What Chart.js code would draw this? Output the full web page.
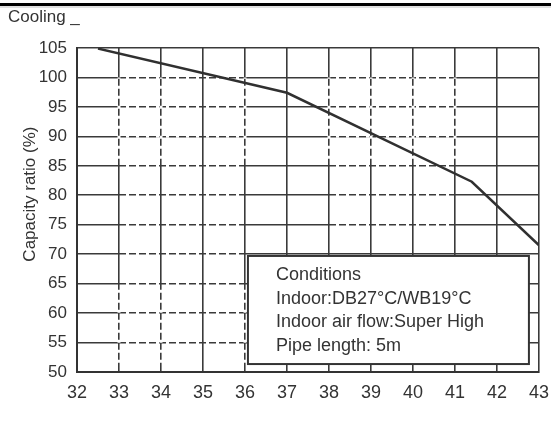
<!DOCTYPE html>
<html>
<head>
<meta charset="utf-8">
<script src="https://cdn.jsdelivr.net/npm/chart.js@4"></script>
<style>
  body { margin: 0; background: #fff; }
  #wrap { width: 551px; height: 441px; }
</style>
</head>
<body>
<div id="wrap"><canvas id="capChart" width="551" height="441"></canvas></div>
<script>
// Capacity curve (outdoor temp vs capacity ratio)
const outdoorTemp = [32.5, 37, 41.4, 43];
const capacityRatio = [104.9, 97.4, 82.3, 71.5];

// Axis ticks
const tempTicks = [32, 33, 34, 35, 36, 37, 38, 39, 40, 41, 42, 43];
const ratioTicks = [50, 55, 60, 65, 70, 75, 80, 85, 90, 95, 100, 105];

// Conditions note
const conditionLines = ['Conditions', 'Indoor:DB27°C/WB19°C', 'Indoor air flow:Super High', 'Pipe length: 5m'];

const ink = '#333';
const font = "'Liberation Sans', Arial, sans-serif";

// grid runs printed dashed instead of solid: [x0, y0, x1, y1] in axis units
const dashedGrid = [];
[55, 60, 65, 70, 75, 80, 85, 90, 95, 100].forEach(v => dashedGrid.push([33, v, 36, v]));
[75, 80, 85, 90, 95, 100].forEach(v => dashedGrid.push([38, v, 41, v]));
[33, 34, 36].forEach(v => { dashedGrid.push([v, 85, v, 100]); dashedGrid.push([v, 50.4, v, 65]); });
[38, 39, 40, 41].forEach(v => dashedGrid.push([v, 85, v, 100]));

// knock white gaps into the solid grid
const dashGrid = {
    id: 'dashGrid',
    beforeDatasetsDraw(chart) {
        const { ctx, scales: { x, y } } = chart;
        ctx.save();
        ctx.strokeStyle = '#fff';
        ctx.lineWidth = 3;
        ctx.setLineDash([3, 7]);
        ctx.lineDashOffset = -7;
        dashedGrid.forEach(([x0, y0, x1, y1]) => {
            ctx.beginPath();
            ctx.moveTo(x.getPixelForValue(x0), y.getPixelForValue(y0));
            ctx.lineTo(x.getPixelForValue(x1), y.getPixelForValue(y1));
            ctx.stroke();
        });
        ctx.restore();
    }
};

// boxed conditions note, titles and header
const extras = {
    id: 'extras',
    afterDatasetsDraw(chart) {
        const { ctx, scales: { x, y } } = chart;
        const left = x.getPixelForValue(36.07), right = x.getPixelForValue(42.76);
        const top = y.getPixelForValue(69.7), bottom = y.getPixelForValue(51.35);
        ctx.save();
        ctx.fillStyle = '#fff';
        ctx.fillRect(left, top, right - left, bottom - top);
        ctx.strokeStyle = ink;
        ctx.lineWidth = 2;
        ctx.strokeRect(left, top, right - left, bottom - top);
        ctx.fillStyle = ink;
        ctx.font = '18px ' + font;
        ctx.textBaseline = 'middle';
        conditionLines.forEach((t, i) => ctx.fillText(t, left + 28, top + 19 + i * 23.6));
        ctx.restore();
    },
    afterDraw(chart) {
        const { ctx, scales: { x, y } } = chart;
        ctx.save();
        ctx.fillStyle = '#000';
        ctx.fillRect(0, 3, chart.width, 3);
        ctx.fillStyle = 'rgba(0,0,0,0.12)';
        ctx.fillRect(0, 6, chart.width, 2);

        ctx.fillStyle = ink;
        ctx.textBaseline = 'middle';
        ctx.font = '17px ' + font;
        ctx.fillText('Cooling _', 8, 17);

        ctx.textAlign = 'center';
        ctx.font = '18px ' + font;
        ctx.fillText('Outdoor temp.(°C)', x.getPixelForValue(38.15), x.bottom + 51);

        ctx.font = '17px ' + font;
        ctx.translate(30, y.getPixelForValue(80.2));
        ctx.rotate(-Math.PI / 2);
        ctx.fillText('Capacity ratio (%)', 0, 0);
        ctx.restore();
    }
};

new Chart(document.getElementById('capChart'), {
    type: 'line',
    data: {
        datasets: [{
            data: outdoorTemp.map((t, i) => ({ x: t, y: capacityRatio[i] })),
            borderColor: '#303030',
            borderWidth: 2.5,
            pointRadius: 0,
            tension: 0
        }]
    },
    options: {
        responsive: false,
        animation: false,
        layout: { padding: { top: 48, right: 12, left: 0, bottom: 0 } },
        plugins: { legend: { display: false }, tooltip: { enabled: false } },
        scales: {
            x: {
                type: 'linear',
                min: 32, max: 43,
                afterBuildTicks: s => { s.ticks = tempTicks.map(v => ({ value: v })); },
                afterFit: s => { s.height = 69; s.paddingLeft = 0; s.paddingRight = 0; },
                grid: { color: '#3a3a3a', lineWidth: 1.6, drawTicks: false },
                border: { color: ink, width: 2 },
                ticks: { color: ink, padding: 10, maxRotation: 0, autoSkip: false, font: { family: font, size: 18 } }
            },
            y: {
                min: 50, max: 105,
                afterBuildTicks: s => { s.ticks = ratioTicks.map(v => ({ value: v })); },
                afterFit: s => { s.width = 77; s.paddingTop = 0; s.paddingBottom = 0; },
                grid: { color: '#3a3a3a', lineWidth: 1.6, drawTicks: false },
                border: { color: ink, width: 2 },
                ticks: { color: ink, padding: 10, autoSkip: false, font: { family: font, size: 17 } }
            }
        }
    },
    plugins: [dashGrid, extras]
});
</script>
</body>
</html>
